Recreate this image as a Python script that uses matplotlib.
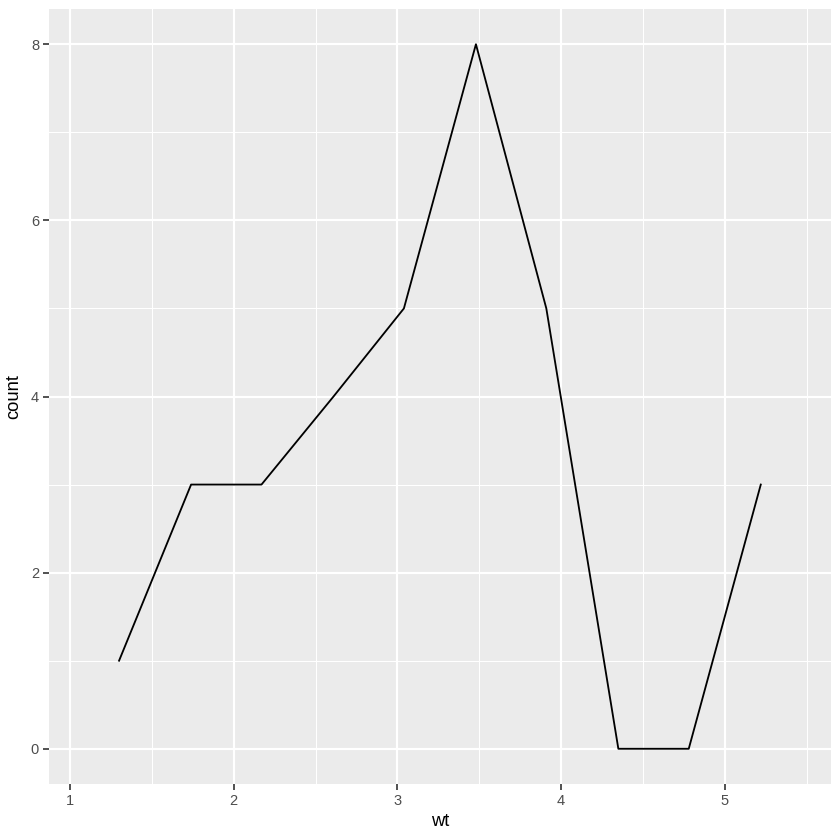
import matplotlib
matplotlib.use("Agg")
import matplotlib.pyplot as plt
from matplotlib.ticker import MultipleLocator

plt.rcParams["font.family"] = ["Liberation Sans", "DejaVu Sans"]

# bin centres (wt) and counts
wt = [1.30, 1.74, 2.17, 2.61, 3.04, 3.48, 3.91, 4.35, 4.78, 5.22]
count = [1, 3, 3, 4, 5, 8, 5, 0, 0, 3]
x_ticks = [1, 2, 3, 4, 5]
y_ticks = [0, 2, 4, 6, 8]

fig = plt.figure(figsize=(7, 7), dpi=120)
ax = fig.add_axes([49 / 840, 56 / 840, 782 / 840, 775 / 840])
ax.set_facecolor("#EBEBEB")
for sp in ax.spines.values():
    sp.set_visible(False)

ax.set_xlim(0.872, 5.649)
ax.set_ylim(-0.4, 8.4)
ax.set_xticks(x_ticks)
ax.set_yticks(y_ticks)
ax.xaxis.set_minor_locator(MultipleLocator(0.5))
ax.yaxis.set_minor_locator(MultipleLocator(1))
ax.grid(True, which="major", color="white", lw=1.3)
ax.grid(True, which="minor", color="white", lw=0.65)
ax.set_axisbelow(True)
ax.tick_params(which="major", length=3.5, width=1.0, color="#333333",
               labelsize=8.8, labelcolor="#4D4D4D", pad=2.5)
ax.tick_params(which="minor", length=0)

ax.plot(wt, count, color="black", lw=1.1, zorder=3)

ax.set_xlabel("wt", fontsize=11, color="black", labelpad=3)
ax.set_ylabel("count", fontsize=11, color="black", labelpad=5)

fig.savefig("out.png", dpi=120)
